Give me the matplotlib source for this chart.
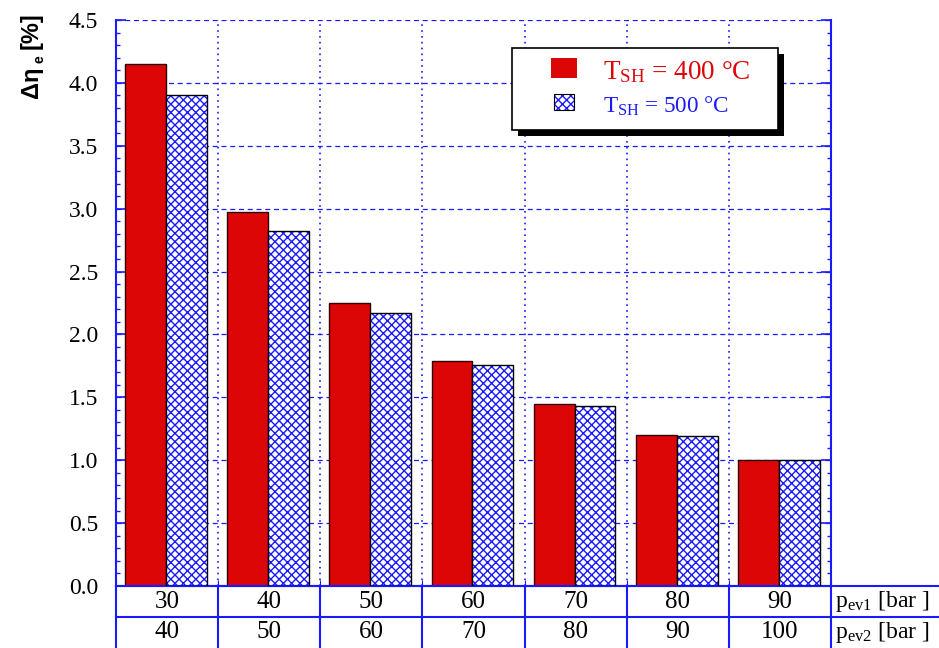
import numpy as np
import matplotlib
matplotlib.use("Agg")
from matplotlib import pyplot as plt
from matplotlib.patches import Rectangle
from matplotlib.ticker import MultipleLocator, FormatStrFormatter
import matplotlib.transforms as mtransforms

plt.rcParams['font.family'] = ['Liberation Serif', 'DejaVu Serif']
plt.rcParams['mathtext.fontset'] = 'custom'
plt.rcParams['mathtext.rm'] = 'Liberation Serif'
plt.rcParams['mathtext.it'] = 'Liberation Serif:italic'
plt.rcParams['hatch.linewidth'] = 1.0

# evaporator pressures for each case
p_ev1 = [30, 40, 50, 60, 70, 80, 90]
p_ev2 = [40, 50, 60, 70, 80, 90, 100]
# efficiency gain [%] for both superheat temperatures
d_eta_400 = [4.15, 2.97, 2.25, 1.79, 1.45, 1.20, 1.00]
d_eta_500 = [3.90, 2.82, 2.17, 1.76, 1.43, 1.19, 1.00]

BLUE = '#1a1aff'
RED = '#dd0606'

fig = plt.figure(figsize=(9.39, 6.48), dpi=100)
W, H = 939, 648
ax = fig.add_axes([116/W, 1-586/H, 715/W, 566/H])

x = np.arange(len(p_ev1))
w = 0.40

# grid behind the bars
for yv in np.arange(0.5, 4.51, 0.5):
    ax.axhline(yv, color=BLUE, lw=0.9, ls=(0, (4, 3)), zorder=0)
for xv in np.arange(0.5, len(x) - 0.5):
    ax.axvline(xv, color=BLUE, lw=1.2, ls=(0, (1, 2.5)), zorder=0)

ax.bar(x - 0.21, d_eta_400, w, color=RED, edgecolor='#300000', lw=1.0, zorder=2)
ax.bar(x + 0.19, d_eta_500, w, color='white', edgecolor=BLUE, hatch='xxxx', lw=0, zorder=2)
ax.bar(x + 0.19, d_eta_500, w, fill=False, edgecolor='black', lw=1.0, zorder=3)

ax.set_xlim(-0.5, len(x) - 0.5)
ax.set_ylim(0, 4.5)
ax.yaxis.set_major_locator(MultipleLocator(0.5))
ax.yaxis.set_minor_locator(MultipleLocator(0.1))
ax.yaxis.set_major_formatter(FormatStrFormatter('%.1f'))
ax.tick_params(axis='y', which='both', direction='in', left=True, right=True,
               color=BLUE, labelsize=17, pad=13)
ax.tick_params(axis='y', which='major', length=7, width=1.2)
ax.tick_params(axis='y', which='minor', length=3, width=1.0)
ax.set_xticks(np.arange(-0.5, len(x)))
ax.tick_params(axis='x', direction='in', length=4, color=BLUE, labelbottom=False)
ax.spines['top'].set_visible(False)
for s in ['left', 'right', 'bottom']:
    ax.spines[s].set_color(BLUE)
    ax.spines[s].set_linewidth(1.5)

# y label: Δη with subscript e, bold sans
lab = dict(rotation=90, ha='center', va='center', fontweight='bold', family='Liberation Sans')
fig.text(31/W, 1-82/H, 'Δη', fontsize=17, **lab)
fig.text(40/W, 1-59/H, 'e', fontsize=10, **lab)
fig.text(31/W, 1-31/H, '[%]', fontsize=17, **lab)

# pressure table under the axis
tr = mtransforms.blended_transform_factory(ax.transData, ax.transAxes)
row = 31/566
x_right = (W - 116)/715
for yy in [0, -row, -2*row - 0.002]:
    ax.plot([0, x_right], [yy, yy], transform=ax.transAxes, color=BLUE, lw=1.5, clip_on=False)
for xv in np.arange(-0.5, len(x)):
    ax.plot([xv, xv], [0, -2*row - 0.01], transform=tr, color=BLUE, lw=1.5, clip_on=False)
for i in range(len(x)):
    ax.text(x[i], -0.5*row, str(p_ev1[i]), transform=tr, ha='center', va='center', fontsize=18)
    ax.text(x[i], -1.5*row, str(p_ev2[i]), transform=tr, ha='center', va='center', fontsize=18)
ax.text(1.005, -0.5*row, r'p$_{\mathrm{ev1}}$ [bar ]', transform=ax.transAxes,
        ha='left', va='center', fontsize=17)
ax.text(1.005, -1.5*row, r'p$_{\mathrm{ev2}}$ [bar ]', transform=ax.transAxes,
        ha='left', va='center', fontsize=17)

# legend box with drop shadow
bx0, by0 = (512-116)/715, (586-130)/566
bw, bh = (778-512)/715, (130-48)/566
ax.add_patch(Rectangle((bx0 + 6/715, by0 - 6/566), bw, bh, transform=ax.transAxes,
                       facecolor='black', edgecolor='none', zorder=5))
ax.add_patch(Rectangle((bx0, by0), bw, bh, transform=ax.transAxes,
                       facecolor='white', edgecolor='black', lw=1.2, zorder=6))
ax.add_patch(Rectangle(((551-116)/715, (586-78)/566), 26/715, 20/566, transform=ax.transAxes,
                       facecolor=RED, edgecolor='none', zorder=7))
ax.add_patch(Rectangle(((554-116)/715, (586-110)/566), 20/715, 16/566, transform=ax.transAxes,
                       facecolor='white', edgecolor=BLUE, hatch='xxxx', lw=0, zorder=7))
ax.add_patch(Rectangle(((554-116)/715, (586-110)/566), 20/715, 16/566, transform=ax.transAxes,
                       fill=False, edgecolor='black', lw=0.8, zorder=8))
ax.text((603-116)/715, (586-72)/566, r'T$_{\mathrm{SH}}$ = 400 °C', transform=ax.transAxes,
        ha='left', va='center', fontsize=19.5, color=RED, zorder=8)
ax.text((603-116)/715, (586-106)/566, r'T$_{\mathrm{SH}}$ = 500 °C', transform=ax.transAxes,
        ha='left', va='center', fontsize=16.7, color=BLUE, zorder=8)

fig.savefig("out.png", dpi=100)
